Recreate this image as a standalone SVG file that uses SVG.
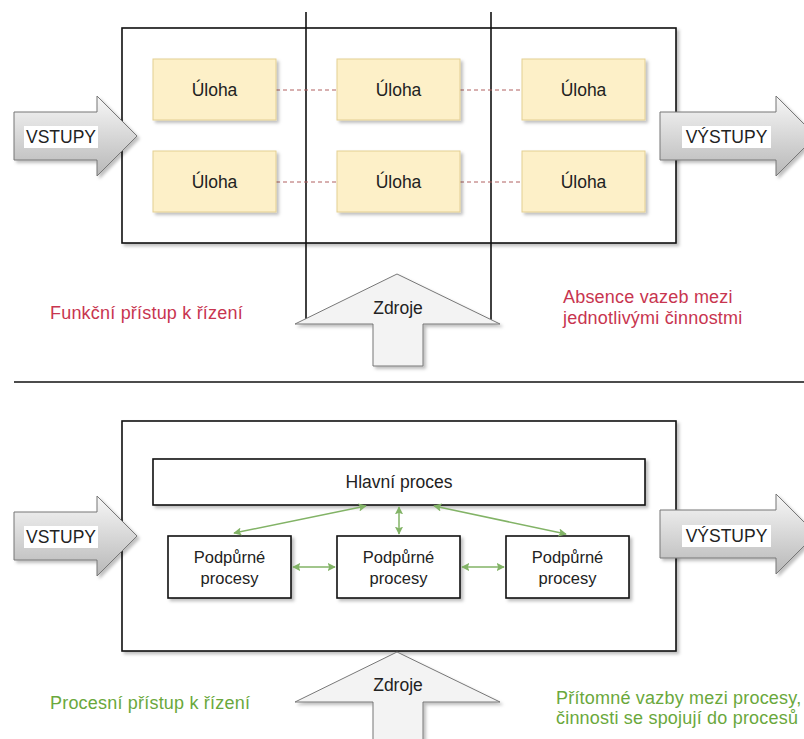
<svg xmlns="http://www.w3.org/2000/svg" width="804" height="739" viewBox="0 0 804 739">
  <style>
    text { font-family: "Liberation Sans", Arial, sans-serif; fill: #222; }
    .lbl { font-size: 17.5px; text-anchor: middle; dominant-baseline: central; }
    .sm { font-size: 16.5px; }
    .frame { fill: #fff; stroke: #111; stroke-width: 1.6; }
    .line { stroke: #111; stroke-width: 1.6; fill: none; }
    .task { fill: #fdf0c8; stroke: #e3cf92; stroke-width: 1; }
    .box { fill: #fff; stroke: #111; stroke-width: 1.6; }
    .io { fill: url(#ioGrad); stroke: #777; stroke-width: 1; }
    .res { fill: #f3f3f3; stroke: #777; stroke-width: 1; }
    .tag { fill: #fff; }
    .dash { stroke: #b06060; stroke-width: 1; stroke-dasharray: 4 3; fill: none; }
    .link { stroke: #82b366; stroke-width: 1.5; fill: none; marker-start: url(#gh); marker-end: url(#gh); }
    .red { fill: #c8354f; font-size: 18px; letter-spacing: 0.2px; }
    .green { fill: #6aa83c; font-size: 18px; letter-spacing: 0.2px; }
  </style>
  <defs>
    <linearGradient id="ioGrad" x1="0" y1="0" x2="0" y2="1">
      <stop offset="0" stop-color="#f7f7f7"/>
      <stop offset="1" stop-color="#b8b8b8"/>
    </linearGradient>
    <filter id="sh" x="-10%" y="-10%" width="130%" height="140%">
      <feDropShadow dx="2.5" dy="2.5" stdDeviation="1.5" flood-color="#000" flood-opacity="0.25"/>
    </filter>
    <marker id="gh" viewBox="0 0 10 10" refX="9" refY="5" markerWidth="5.5" markerHeight="5.5" orient="auto-start-reverse">
      <path d="M0,0 L10,5 L0,10 L2,5 Z" fill="#82b366"/>
    </marker>
  </defs>

  <!-- functional management: department frame -->
  <g id="functional-frame">
    <rect class="frame" x="122" y="28" width="554" height="215" filter="url(#sh)"/>
    <line class="line" x1="306" y1="12" x2="306" y2="322"/>
    <line class="line" x1="491" y1="12" x2="491" y2="322"/>
  </g>

  <!-- dashed links between tasks -->
  <g id="task-links">
    <line class="dash" x1="276" y1="90" x2="337" y2="90"/>
    <line class="dash" x1="460" y1="90" x2="522" y2="90"/>
    <line class="dash" x1="276" y1="182" x2="337" y2="182"/>
    <line class="dash" x1="460" y1="182" x2="522" y2="182"/>
  </g>

  <g id="task-1"><rect class="task" x="153" y="59" width="123" height="61" filter="url(#sh)"/><text class="lbl" x="214.5" y="89.5">Úloha</text></g>
  <g id="task-2"><rect class="task" x="337" y="59" width="123" height="61" filter="url(#sh)"/><text class="lbl" x="398.5" y="89.5">Úloha</text></g>
  <g id="task-3"><rect class="task" x="522" y="59" width="123" height="61" filter="url(#sh)"/><text class="lbl" x="583.5" y="89.5">Úloha</text></g>
  <g id="task-4"><rect class="task" x="153" y="151" width="123" height="61" filter="url(#sh)"/><text class="lbl" x="214.5" y="181.5">Úloha</text></g>
  <g id="task-5"><rect class="task" x="337" y="151" width="123" height="61" filter="url(#sh)"/><text class="lbl" x="398.5" y="181.5">Úloha</text></g>
  <g id="task-6"><rect class="task" x="522" y="151" width="123" height="61" filter="url(#sh)"/><text class="lbl" x="583.5" y="181.5">Úloha</text></g>

  <g id="inputs-top">
    <path class="io" d="M14,112 H97 V96 L137,136 L97,176 V160 H14 Z" filter="url(#sh)"/>
    <rect class="tag" x="24" y="126" width="74" height="22"/>
    <text class="lbl" x="61" y="137">VSTUPY</text>
  </g>
  <g id="outputs-top">
    <path class="io" d="M660,112 H776 V96 L816,136 L776,176 V160 H660 Z" filter="url(#sh)"/>
    <rect class="tag" x="682" y="126" width="89" height="22"/>
    <text class="lbl" x="726.5" y="137">VÝSTUPY</text>
  </g>
  <g id="resources-top">
    <path class="res" d="M397,274 L500,324 H423 V366 H373 V324 H295 Z" filter="url(#sh)"/>
    <text class="lbl" x="398" y="308">Zdroje</text>
  </g>

  <g id="note-functional"><text class="red" x="50" y="319">Funkční přístup k řízení</text></g>
  <g id="note-absence">
    <text class="red" x="563" y="303">Absence vazeb mezi</text>
    <text class="red" x="563" y="324">jednotlivými činnostmi</text>
  </g>

  <!-- separator -->
  <line class="line" x1="14" y1="382" x2="804" y2="382"/>

  <!-- process management -->
  <g id="process-frame"><rect class="frame" x="122" y="421" width="554" height="230" filter="url(#sh)"/></g>

  <g id="main-process"><rect class="box" x="153" y="459" width="492" height="46" filter="url(#sh)"/><text class="lbl" x="399" y="482">Hlavní proces</text></g>
  <g id="support-1"><rect class="box" x="168" y="536" width="123" height="62" filter="url(#sh)"/><text class="lbl sm" x="229.5" y="557">Podpůrné</text><text class="lbl sm" x="229.5" y="578">procesy</text></g>
  <g id="support-2"><rect class="box" x="337" y="536" width="123" height="62" filter="url(#sh)"/><text class="lbl sm" x="398.5" y="557">Podpůrné</text><text class="lbl sm" x="398.5" y="578">procesy</text></g>
  <g id="support-3"><rect class="box" x="506" y="536" width="123" height="62" filter="url(#sh)"/><text class="lbl sm" x="567.5" y="557">Podpůrné</text><text class="lbl sm" x="567.5" y="578">procesy</text></g>

  <g id="process-links">
    <line class="link" x1="366" y1="506" x2="234" y2="533"/>
    <line class="link" x1="434" y1="506" x2="566" y2="534"/>
    <line class="link" x1="399" y1="507" x2="399" y2="534"/>
    <line class="link" x1="293" y1="567" x2="335" y2="567"/>
    <line class="link" x1="462" y1="567" x2="504" y2="567"/>
  </g>

  <g id="inputs-bottom">
    <path class="io" d="M14,512 H97 V496 L137,536 L97,576 V560 H14 Z" filter="url(#sh)"/>
    <rect class="tag" x="24" y="526" width="74" height="22"/>
    <text class="lbl" x="61" y="537">VSTUPY</text>
  </g>
  <g id="outputs-bottom">
    <path class="io" d="M660,510 H776 V494 L816,534 L776,574 V558 H660 Z" filter="url(#sh)"/>
    <rect class="tag" x="682" y="525" width="89" height="22"/>
    <text class="lbl" x="726.5" y="536">VÝSTUPY</text>
  </g>
  <g id="resources-bottom">
    <path class="res" d="M397,652 L500,702 H423 V750 H373 V702 H295 Z" filter="url(#sh)"/>
    <text class="lbl" x="398" y="685">Zdroje</text>
  </g>

  <g id="note-process"><text class="green" x="50" y="709">Procesní přístup k řízení</text></g>
  <g id="note-links">
    <text class="green" x="556" y="704">Přítomné vazby mezi procesy,</text>
    <text class="green" x="556" y="724">činnosti se spojují do procesů</text>
  </g>
</svg>
